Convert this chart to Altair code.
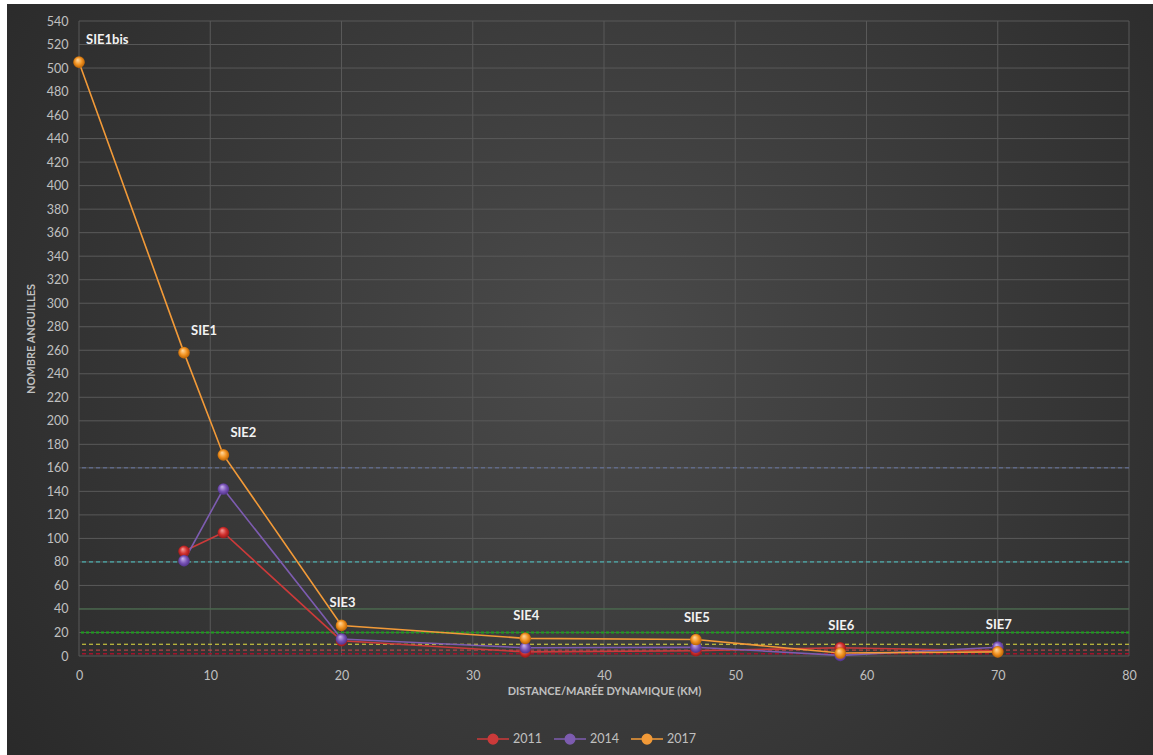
import altair as alt
import pandas as pd

# Stations along the estuary: distance to the dynamic tide limit (km)
km = [0, 8, 11, 20, 34, 47, 58, 70]
stations = ["SIE1bis", "SIE1", "SIE2", "SIE3", "SIE4", "SIE5", "SIE6", "SIE7"]

# Eel counts per campaign (None = station not sampled)
n2011 = [None, 89, 105, 13, 3.5, 4.5, 7, 4.5]
n2014 = [None, 81, 142, 14.5, 7, 7.5, 0.5, 7.5]
n2017 = [505, 258, 171, 26, 15, 14, 2.5, 3.5]
years = ["2011", "2014", "2017"]

# Reference levels drawn as horizontal guides
levels = [160, 80, 40, 20, 10, 5, 2]

x_ticks = [0, 10, 20, 30, 40, 50, 60, 70, 80]
y_ticks = list(range(0, 541, 20))

FONT = "Lato"
TXT = "#c0c0c0"
W, H = 1050, 635

rows = []
for yr, vals in zip(years, [n2011, n2014, n2017]):
    for k, s, v in zip(km, stations, vals):
        if v is not None:
            rows.append({"km": k, "station": s, "year": yr, "n": v})
df = pd.DataFrame(rows)

lab = df.groupby(["km", "station"], as_index=False)["n"].max()

x_scale = alt.Scale(domain=[0, 80], nice=False, zero=False)
y_scale = alt.Scale(domain=[0, 540], nice=False)

x_axis = alt.Axis(values=x_ticks, grid=False, domain=False, ticks=False, zindex=1,
                  labelFlush=False, labelPadding=13, labelColor=TXT,
                  labelFontSize=12.5, labelFont=FONT,
                  title="DISTANCE/MARÉE DYNAMIQUE (KM)", titleFont=FONT,
                  titleFontSize=11, titleFontWeight="bold", titleColor=TXT,
                  titlePadding=4)
y_axis = alt.Axis(values=y_ticks, grid=False, domain=False, ticks=False, zindex=1,
                  labelFlush=False, labelPadding=11, labelColor=TXT,
                  labelFontSize=12.5, labelFont=FONT,
                  title="NOMBRE ANGUILLES", titleFont=FONT, titleFontSize=11,
                  titleFontWeight="bold", titleColor=TXT, titlePadding=10)


def X(f):
    return alt.X(f"{f}:Q", scale=x_scale, axis=x_axis)


def Y(f):
    return alt.Y(f"{f}:Q", scale=y_scale, axis=y_axis)


one = pd.DataFrame({"a": [0]})

# Dark radial backdrop behind the whole chart
backdrop = alt.Chart(one).mark_rect(
    fill={"gradient": "radial", "x1": 0.52, "y1": 0.47, "r1": 0,
          "x2": 0.52, "y2": 0.47, "r2": 0.72,
          "stops": [{"offset": 0, "color": "#4b4b4b"},
                    {"offset": 1, "color": "#252525"}]}
).encode(x=alt.value(-72), x2=alt.value(1074), y=alt.value(-17), y2=alt.value(734))

grid_v = alt.Chart(pd.DataFrame({"t": x_ticks})).mark_rule(
    color="#595959", strokeWidth=1).encode(x=X("t"))
grid_h = alt.Chart(pd.DataFrame({"t": y_ticks})).mark_rule(
    color="#595959", strokeWidth=1).encode(y=Y("t"))

level_styles = {
    160: dict(color="#6877a6", strokeDash=[4, 3], strokeWidth=1),
    80: dict(color="#4cc8c8", strokeDash=[4, 3], strokeWidth=1),
    40: dict(color="#44704a", strokeWidth=1),
    20: dict(color="#1f9f1f", strokeDash=[3, 2], strokeWidth=2),
    10: dict(color="#e4e040", strokeDash=[4, 3], strokeWidth=1),
    5: dict(color="#cf4848", strokeDash=[4, 3], strokeWidth=1),
    2: dict(color="#a3142c", strokeDash=[4, 3], strokeWidth=1.5),
}
guides = [
    alt.Chart(pd.DataFrame({"v": [lv]})).mark_rule(**level_styles[lv]).encode(y=Y("v"))
    for lv in levels
]

line_colors = ["#cc3a3a", "#7d5cb0", "#f29a38"]
series_scale = alt.Scale(domain=years, range=line_colors)
legend_symbol = ("M-1,0H-0.3M0.3,0H1"
                 "M0.3,0A0.3,0.3 0 1 1 -0.3,0A0.3,0.3 0 1 1 0.3,0Z")
legend = alt.Legend(orient="none", legendX=397, legendY=701,
                    direction="horizontal", title=None,
                    symbolType=legend_symbol, symbolSize=1024,
                    symbolStrokeWidth=1.5, labelColor=TXT, labelFontSize=12.5,
                    labelFont=FONT, labelOffset=3, columnPadding=9)

lines = alt.Chart(df).mark_line(strokeWidth=1.6).encode(
    x=X("km"), y=Y("n"),
    stroke=alt.Stroke("year:N", scale=series_scale, legend=legend),
    order=alt.Order("km:Q"),
)

# Empty layer carrying the fill channel so the legend markers are filled
legend_fill = alt.Chart(df).transform_filter(alt.datum.n < 0).mark_point(
    filled=True, opacity=1).encode(
    x=X("km"), y=Y("n"),
    fill=alt.Fill("year:N", scale=series_scale, legend=legend),
)


def sphere(light, base, dark):
    return {"gradient": "radial", "x1": 0.38, "y1": 0.3, "r1": 0,
            "x2": 0.5, "y2": 0.5, "r2": 0.55,
            "stops": [{"offset": 0, "color": light},
                      {"offset": 0.55, "color": base},
                      {"offset": 1, "color": dark}]}


sphere_fills = [sphere("#f6a3a0", "#d2302e", "#8c1414"),
                sphere("#cdb8f0", "#7a55b8", "#4a2c82"),
                sphere("#ffdca6", "#f39422", "#b05a00")]

points = [
    alt.Chart(df).transform_filter(alt.datum.year == yr).mark_circle(
        size=135, fill=f, opacity=1).encode(x=X("km"), y=Y("n"))
    for yr, f in zip(years, sphere_fills)
]

label_style = dict(font=FONT, fontWeight="bold", fontSize=13, color="#f2f2f2",
                   baseline="middle", dy=-22)
labels_up = alt.Chart(lab).transform_filter(alt.datum.km < 15).mark_text(
    align="left", dx=7, **label_style).encode(x=X("km"), y=Y("n"), text="station:N")
labels_down = alt.Chart(lab).transform_filter(alt.datum.km >= 15).mark_text(
    align="center", dx=1, **label_style).encode(x=X("km"), y=Y("n"), text="station:N")

chart = alt.layer(
    backdrop, grid_v, grid_h, *guides, lines, legend_fill, *points,
    labels_up, labels_down
).properties(
    width=W, height=H,
    autosize=alt.AutoSizeParams(type="none"),
    padding={"left": 79, "top": 21, "right": 24, "bottom": 99},
    background="white",
).configure_view(stroke=None)

chart.save("out.html", embed_options={"renderer": "svg", "actions": False})
